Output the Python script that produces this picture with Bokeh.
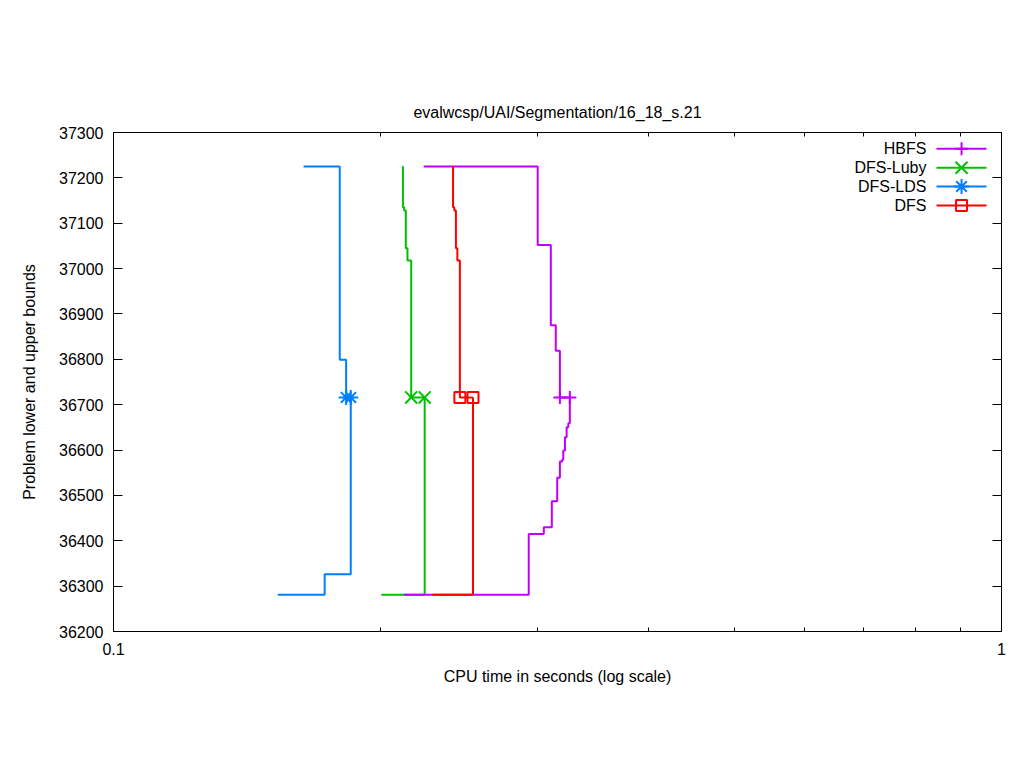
from bokeh.plotting import figure
from bokeh.models import FixedTicker, LinearAxis, LogAxis, CustomJSTickFormatter, Range1d, Title
from bokeh.core.properties import value
from bokeh.embed import file_html
from bokeh.resources import INLINE

# ---------------- data ----------------
title_text = "evalwcsp/UAI/Segmentation/16_18_s.21"
x_label = "CPU time in seconds (log scale)"
y_label = "Problem lower and upper bounds"

series_names = ["HBFS", "DFS-Luby", "DFS-LDS", "DFS"]

# upper bounds (step curves, value changes at time t)
hbfs_upper_t = [0.2235, 0.3004, 0.3108, 0.3148, 0.3182, 0.3265]
hbfs_upper_y = [37225, 37052, 36875, 36819, 36716, 36716]
hbfs_lower_t = [0.2123, 0.2935, 0.3052, 0.3116, 0.3160, 0.3182, 0.3202, 0.3210, 0.3224, 0.3238, 0.3252, 0.3265]
hbfs_lower_y = [36281, 36415, 36430, 36487, 36539, 36575, 36579, 36599, 36628, 36650, 36659, 36716]

luby_upper_t = [0.2117, 0.2118, 0.2125, 0.2134, 0.2143, 0.2164, 0.2241]
luby_upper_y = [37225, 37135, 37128, 37045, 37018, 36716, 36716]
luby_lower_t = [0.2003, 0.2241]
luby_lower_y = [36281, 36716]

lds_upper_t = [0.1637, 0.1798, 0.1828, 0.1850]
lds_upper_y = [37225, 36799, 36716, 36716]
lds_lower_t = [0.1531, 0.1729, 0.1850]
lds_lower_y = [36281, 36326, 36716]

dfs_upper_t = [0.2411, 0.2412, 0.2420, 0.2430, 0.2439, 0.2455, 0.2540]
dfs_upper_y = [37225, 37135, 37128, 37045, 37018, 36716, 36716]
dfs_lower_t = [0.2287, 0.2540]
dfs_lower_y = [36281, 36716]

# final points (end of upper bound curve, end of lower bound curve)
hbfs_end_t = [0.3182, 0.3265]
luby_end_t = [0.2164, 0.2241]
lds_end_t = [0.1828, 0.1850]
dfs_end_t = [0.2455, 0.2540]
optimum = 36716

x_major_ticks = [0.1, 1]
x_tick_labels = ["0.1", "1"]
x_minor_ticks = [0.2, 0.3, 0.4, 0.5, 0.6, 0.7, 0.8, 0.9]
y_ticks = [36200, 36300, 36400, 36500, 36600, 36700, 36800, 36900, 37000, 37100, 37200, 37300]

# ---------------- style ----------------
FONT = "Liberation Sans"
FS = "16px"
colors = {"HBFS": "#C000FF", "DFS-Luby": "#00C000", "DFS-LDS": "#0080FF", "DFS": "#FF0000"}
markers = {"HBFS": "cross", "DFS-Luby": "x", "DFS-LDS": "asterisk", "DFS": "square"}
msize = {"HBFS": 13, "DFS-Luby": 17, "DFS-LDS": 15, "DFS": 11}

X0, X1 = 0.1, 1.0
Y0, Y1 = 36200, 37300

p = figure(width=1008, height=752, x_axis_type="log",
           x_range=Range1d(X0, X1), y_range=Range1d(Y0, Y1),
           output_backend="svg", toolbar_location=None)
p.min_border_left = 113
p.min_border_right = 7
p.min_border_top = 132
p.min_border_bottom = 121
p.background_fill_color = "white"
p.border_fill_color = "white"
p.outline_line_color = "black"
p.outline_line_width = 1
p.outline_line_alpha = 1
p.grid.visible = False


def fx(f):
    return 10 ** (-1 + f)


def fy(f):
    return Y0 + (Y1 - Y0) * f


xt = FixedTicker(ticks=x_major_ticks, minor_ticks=x_minor_ticks)
yt = FixedTicker(ticks=y_ticks)

xa = p.xaxis[0]
xa.ticker = xt
xa.major_label_overrides = {t: l for t, l in zip(x_major_ticks, x_tick_labels)}
ya = p.yaxis[0]
ya.ticker = yt

for ax in (xa, ya):
    ax.axis_line_color = "black"
    ax.major_tick_line_color = "black"
    ax.minor_tick_line_color = "black"
    ax.major_tick_in = 9
    ax.major_tick_out = 0
    ax.minor_tick_in = 4
    ax.minor_tick_out = 0
    ax.major_label_text_font = FONT
    ax.major_label_text_font_size = FS
    ax.major_label_text_color = "black"
    ax.axis_label_text_font = FONT
    ax.axis_label_text_font_size = FS
    ax.axis_label_text_font_style = "normal"
    ax.axis_label_text_color = "black"

xa.axis_label = x_label
ya.axis_label = y_label
xa.major_label_standoff = 11
ya.major_label_standoff = 10
xa.axis_label_standoff = 10
ya.axis_label_standoff = 18

blank = CustomJSTickFormatter(code="return '';")
top_ax = LogAxis(ticker=xt, formatter=blank, major_tick_in=9, major_tick_out=0,
                 minor_tick_in=4, minor_tick_out=0, major_label_standoff=0,
                 axis_line_color="black")
right_ax = LinearAxis(ticker=yt, formatter=blank, major_tick_in=9, major_tick_out=0,
                      minor_tick_in=0, minor_tick_out=0, major_label_standoff=0,
                      axis_line_color="black")
p.add_layout(top_ax, "above")
p.add_layout(right_ax, "right")
p.add_layout(Title(text=title_text, align="center", text_font=FONT, text_font_size=FS,
                   text_font_style="normal", text_color="black", standoff=24), "above")

# ---------------- curves ----------------
def step(t, y, name):
    p.step(t, y, mode="after", line_color=colors[name], line_width=2)

# upper bounds
step(hbfs_upper_t, hbfs_upper_y, "HBFS")
step(luby_upper_t, luby_upper_y, "DFS-Luby")
step(lds_upper_t, lds_upper_y, "DFS-LDS")
step(dfs_upper_t, dfs_upper_y, "DFS")
# lower bounds
step(lds_lower_t, lds_lower_y, "DFS-LDS")
step(luby_lower_t, luby_lower_y, "DFS-Luby")
step(hbfs_lower_t, hbfs_lower_y, "HBFS")
step(dfs_lower_t, dfs_lower_y, "DFS")

for name, ends in (("HBFS", hbfs_end_t), ("DFS-Luby", luby_end_t),
                   ("DFS-LDS", lds_end_t), ("DFS", dfs_end_t)):
    p.scatter(ends, [optimum] * len(ends), marker=markers[name], size=msize[name],
              line_color=colors[name], line_width=2, fill_color=None)

# ---------------- legend (label left of sample, gnuplot style) ----------------
row_fracs = [0.9673, 0.9293, 0.8918, 0.8537]
for name, rf in zip(series_names, row_fracs):
    yy = fy(rf)
    p.text(x=[fx(0.9155)], y=[yy], text=[name], text_align="right",
           text_baseline="middle", text_font=value(FONT), text_font_size=FS,
           text_color="black")
    p.segment(x0=[fx(0.9268)], y0=[yy], x1=[fx(0.9831)], y1=[yy],
              line_color=colors[name], line_width=2)
    p.scatter([fx(0.955)], [yy], marker=markers[name], size=msize[name],
              line_color=colors[name], line_width=2, fill_color=None)

open("out.html", "w").write(file_html(p, INLINE))
